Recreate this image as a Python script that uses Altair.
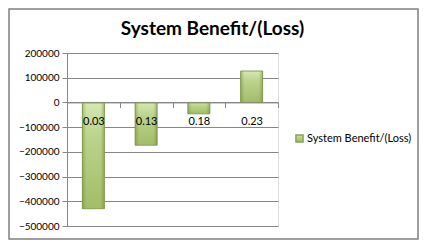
import altair as alt
import pandas as pd

categories = ["0.03", "0.13", "0.18", "0.23"]
values = [-430000, -173000, -46000, 127000]
series_name = "System Benefit/(Loss)"
y_ticks = [200000, 100000, 0, -100000, -200000, -300000, -400000, -500000]

df = pd.DataFrame({"rate": categories, "value": values, "series": [series_name] * len(categories)})

W, H = 211, 173
ymin, ymax = -500000, 200000
zero_offset = -H * (0 - ymin) / (ymax - ymin)

grad = alt.LinearGradient(
    gradient="linear", x1=0, y1=0, x2=0, y2=1,
    stops=[
        alt.GradientStop(color="#d6e8b2", offset=0),
        alt.GradientStop(color="#bcd48c", offset=0.3),
        alt.GradientStop(color="#a3bc68", offset=1),
    ],
)
side = alt.LinearGradient(
    gradient="linear", x1=0, y1=0, x2=1, y2=0,
    stops=[
        alt.GradientStop(color="rgba(90,110,40,0.35)", offset=0),
        alt.GradientStop(color="rgba(90,110,40,0)", offset=0.18),
        alt.GradientStop(color="rgba(90,110,40,0)", offset=0.82),
        alt.GradientStop(color="rgba(90,110,40,0.35)", offset=1),
    ],
)

x_enc = alt.X("rate:N", sort=None,
              scale=alt.Scale(paddingInner=0, paddingOuter=0),
              axis=alt.Axis(title=None, labelAngle=0, offset=zero_offset, tickBand="extent",
                            zindex=1, domainColor="#878787", tickColor="#878787", tickSize=5,
                            labelPadding=8, labelFont="Lato", labelFontSize=11, labelColor="#000000"))
y_enc = alt.Y("value:Q",
              scale=alt.Scale(domain=[ymin, ymax], nice=False, zero=False),
              axis=alt.Axis(title=None, values=y_ticks, format="d", grid=True, gridColor="#878787",
                            domainColor="#878787", tickColor="#878787", tickSize=5, labelPadding=3,
                            labelFont="Lato", labelFontSize=10, labelColor="#000000"))

bars = alt.Chart(df).mark_bar(size=22, fill=grad, strokeWidth=1).encode(
    x=x_enc,
    y=y_enc,
    stroke=alt.Stroke("series:N", scale=alt.Scale(range=["#8aa253"]),
                      legend=alt.Legend(title=None, orient="none", legendX=227, legendY=80,
                                        symbolType="square", symbolSize=50,
                                        symbolFillColor="#a8c070", labelFont="Lato",
                                        labelFontSize=11, labelOffset=2, labelColor="#000000")),
)
shade = alt.Chart(df).mark_bar(size=22, fill=side, strokeWidth=0).encode(x=x_enc, y=y_enc)

border = alt.Chart(pd.DataFrame({"a": [0]})).mark_rect(
    fillOpacity=0, stroke="#808080", strokeWidth=1.5
).encode(x=alt.value(-58), x2=alt.value(351), y=alt.value(-44), y2=alt.value(186))

chart = alt.layer(border, bars, shade).properties(
    width=W, height=H,
    autosize=alt.AutoSizeParams(type="none"),
    padding={"left": 59, "top": 45, "right": 142, "bottom": 15},
    title=alt.TitleParams(series_name, font="Lato", fontSize=19, fontWeight="bold",
                          anchor="middle", offset=8, dx=40, dy=39, color="#000000"),
).configure_view(stroke=None).configure(background="white")

chart.save("out.html", embed_options={"renderer": "svg", "actions": False})
